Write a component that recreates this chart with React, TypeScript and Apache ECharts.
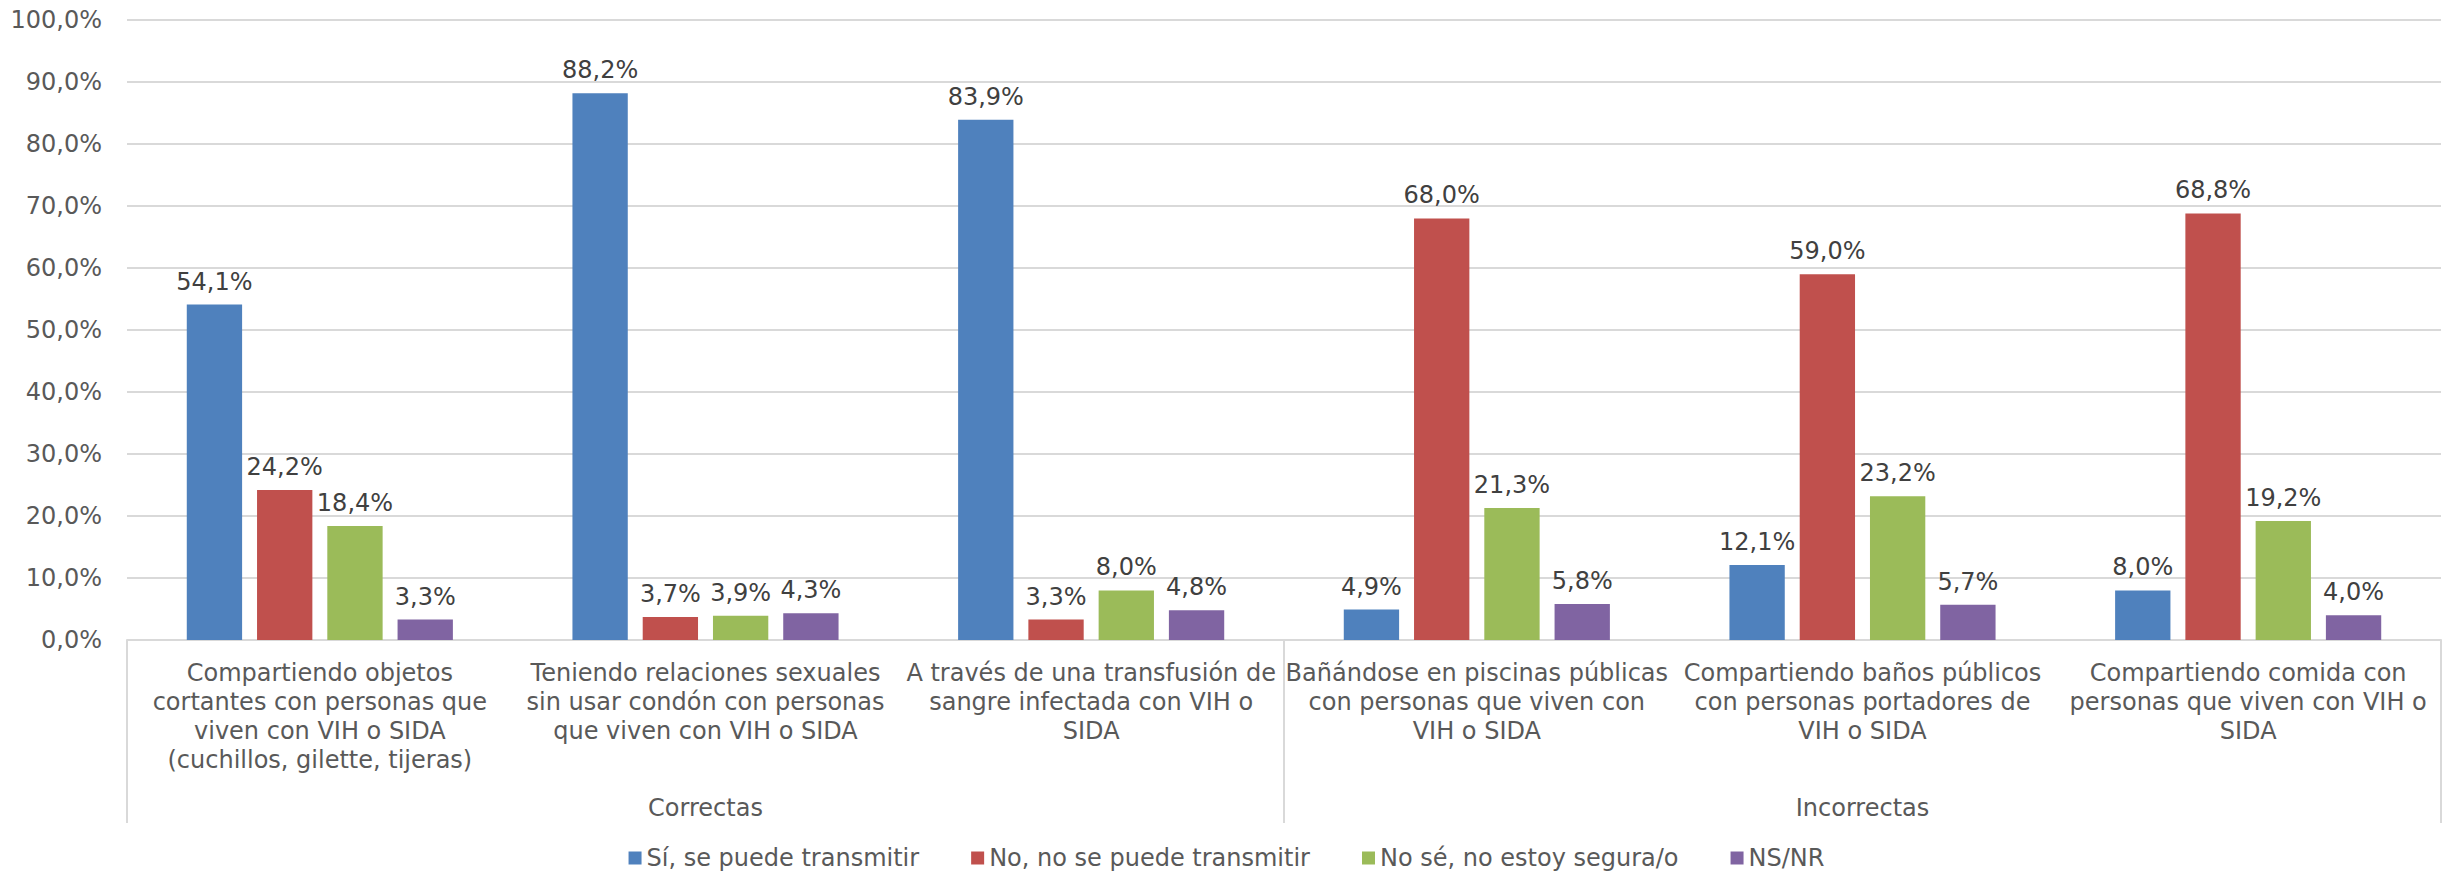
import React, { useEffect, useRef } from "react";
import * as echarts from "echarts";

const categories = [
  "Compartiendo objetos\ncortantes con personas que\nviven con VIH o SIDA\n(cuchillos, gilette, tijeras)",
  "Teniendo relaciones sexuales\nsin usar condón con personas\nque viven con VIH o SIDA",
  "A través de una transfusión de\nsangre infectada con VIH o\nSIDA",
  "Bañándose en piscinas públicas\ncon personas que viven con\nVIH o SIDA",
  "Compartiendo baños públicos\ncon personas portadores de\nVIH o SIDA",
  "Compartiendo comida con\npersonas que viven con VIH o\nSIDA",
];
const groups = ["Correctas", "Incorrectas"];

const seriesNames = [
  "Sí, se puede transmitir",
  "No, no se puede transmitir",
  "No sé, no estoy segura/o",
  "NS/NR",
];
const siValues = [54.1, 88.2, 83.9, 4.9, 12.1, 8.0];
const noValues = [24.2, 3.7, 3.3, 68.0, 59.0, 68.8];
const noSeValues = [18.4, 3.9, 8.0, 21.3, 23.2, 19.2];
const nsnrValues = [3.3, 4.3, 4.8, 5.8, 5.7, 4.0];
const colors = ["#4F81BD", "#C0504D", "#9BBB59", "#8064A2"];

const fmt = (v: number) => v.toFixed(1).replace(".", ",") + "%";
const FONT = "DejaVu Sans, Verdana, sans-serif";

export default function App() {
  const ref = useRef<HTMLDivElement>(null);
  useEffect(() => {
    if (!ref.current) return;
    const chart = echarts.init(ref.current, undefined, { renderer: "svg" });
    const allValues = [siValues, noValues, noSeValues, nsnrValues];
    chart.setOption({
      animation: false,
      textStyle: { fontFamily: FONT },
      grid: { left: 127, right: 12, top: 20, bottom: 234, containLabel: false },
      legend: {
        data: seriesNames,
        left: "center",
        top: 841,
        itemWidth: 13,
        itemHeight: 13,
        itemGap: 52,
        icon: "rect",
        textStyle: { fontSize: 24, color: "#595959", fontFamily: FONT },
      },
      xAxis: [
        {
          type: "category",
          data: categories,
          axisLine: { show: true, lineStyle: { color: "#d9d9d9", width: 2 } },
          axisTick: { show: false },
          axisLabel: {
            interval: 0,
            margin: 18,
            fontSize: 24,
            lineHeight: 29,
            color: "#595959",
            fontFamily: FONT,
          },
        },
        {
          type: "category",
          data: groups,
          position: "bottom",
          axisLine: { show: false },
          axisTick: { show: true, length: 183, interval: 0, lineStyle: { color: "#d9d9d9", width: 2 } },
          axisLabel: { interval: 0, margin: 156, fontSize: 24, color: "#595959", fontFamily: FONT },
          splitLine: { show: false },
        },
      ],
      yAxis: {
        type: "value",
        min: 0,
        max: 100,
        interval: 10,
        axisLine: { show: false },
        axisTick: { show: false },
        axisLabel: {
          formatter: (v: number) => fmt(v),
          fontSize: 24,
          color: "#595959",
          margin: 25,
          fontFamily: FONT,
        },
        splitLine: { lineStyle: { color: "#d9d9d9", width: 2 } },
      },
      series: seriesNames.map((name, i) => ({
        name,
        type: "bar",
        xAxisIndex: 0,
        data: allValues[i],
        barCategoryGap: "31%",
        barGap: "27%",
        itemStyle: { color: colors[i] },
        label: {
          show: true,
          position: "top",
          distance: 11,
          fontSize: 24,
          color: "#404040",
          fontFamily: FONT,
          formatter: (p: any) => fmt(p.value),
        },
      })),
    });
    return () => chart.dispose();
  }, []);
  return (
    <div
      ref={ref}
      style={{ position: "absolute", left: 0, top: 0, width: 2453, height: 874, background: "#fff" }}
    />
  );
}
